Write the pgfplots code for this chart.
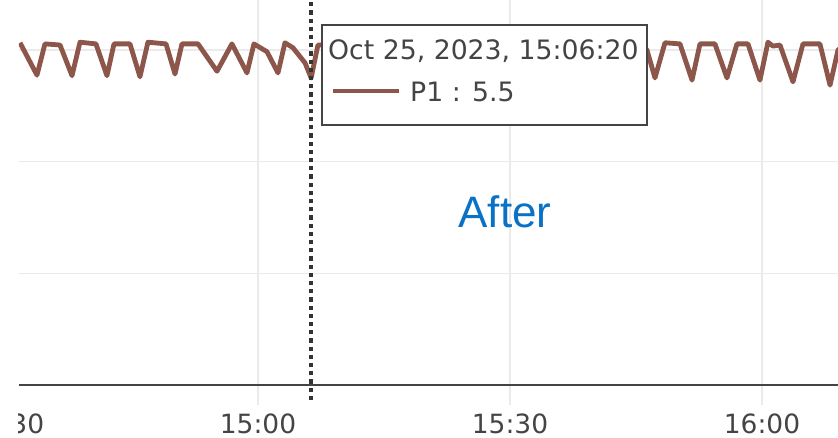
\documentclass[border=0pt]{standalone}
\usepackage{fontspec}
\setmainfont{Liberation Sans}
\newfontfamily\verd{DejaVu Sans}
\usepackage{pgfplots}
\pgfplotsset{compat=1.18}
\definecolor{brownline}{HTML}{8C564B}
\definecolor{axgray}{HTML}{444444}
\definecolor{spikegray}{HTML}{333333}
\definecolor{gridgray}{HTML}{EBEBEB}
\definecolor{afterblue}{HTML}{0A72C6}

\begin{document}
\begin{tikzpicture}[x=1pt,y=1pt]
\useasboundingbox (0,0) rectangle (838,437);
\clip (18,0) rectangle (838,437);
\begin{axis}[
  at={(19pt,52pt)}, anchor=south west,
  scale only axis, width=819pt, height=385pt,
  xmin=31.55, xmax=129.05, ymin=0, ymax=6.896,
  axis x line*=bottom, axis y line*=left,
  y axis line style={draw=none},
  x axis line style={axgray, line width=2.2pt},
  xtick={60,90,120}, xticklabels={15:00,15:30,16:00},
  ytick={2,4,6}, yticklabels={},
  tick align=outside,
  xtick style={gridgray, line width=1.6pt},
  ytick style={draw=none},
  major tick length=20pt,
  grid=major, major grid style={gridgray, line width=1.6pt},
  xticklabel style={font=\verd\fontsize{26.5}{30}\selectfont, text=axgray, anchor=base, yshift=-28pt},
  clip mode=individual,
]
\addplot[brownline, line width=4.8pt, line join=round] coordinates {
 (31.67,6.13) (33.69,5.55) (34.64,6.11) (36.43,6.09) (37.86,5.54) (38.81,6.14)
 (40.71,6.11) (42.02,5.54) (42.86,6.11) (44.76,6.11) (45.95,5.52) (46.90,6.14)
 (49.05,6.11) (50.12,5.57) (50.95,6.11) (52.86,6.11) (55.12,5.62) (56.90,6.11)
 (58.69,5.59) (59.52,6.11) (61.07,5.97) (62.38,5.59) (63.21,6.13) (64.17,6.04)
 (65.60,5.77) (66.33,5.50) (67.14,6.09) (68.57,6.09) (70.00,5.54) (70.95,6.11)
 (72.74,6.11) (74.17,5.54) (75.12,6.11) (76.90,6.11) (78.33,5.54) (79.29,6.11)
 (81.07,6.11) (82.50,5.54) (83.45,6.11) (85.24,6.11) (86.67,5.54) (87.62,6.11)
 (89.40,6.11) (90.83,5.54) (91.79,6.11) (93.57,6.11) (95.00,5.54) (95.95,6.11)
 (97.74,6.11) (99.17,5.54) (100.12,6.11) (101.90,6.11) (103.33,5.54) (104.29,6.11)
 (105.48,6.11) (106.31,6.00) (107.26,5.50) (108.45,6.13) (110.24,6.11) (111.67,5.46)
 (112.62,6.11) (114.40,6.11) (115.83,5.50) (117.02,6.11) (118.33,6.11) (119.76,5.46)
 (120.71,6.14) (121.31,6.07) (122.14,6.09) (123.69,5.43) (124.88,6.11) (126.90,6.11)
 (128.10,5.37) (129.05,6.00) (129.88,6.10)
};
\coordinate (spikebot) at (axis cs:66.33,-0.27);
\coordinate (spiketop) at (axis cs:66.33,7.2);
\node[font=\verd\fontsize{26.5}{30}\selectfont, text=axgray, anchor=base, yshift=-48pt, inner sep=0pt] at (axis cs:30,0) {14:30};
\end{axis}
\draw[color=spikegray, line width=3.4pt, dash pattern=on 4.2pt off 4pt] (spikebot) -- (spiketop);
% tooltip
\draw[axgray, line width=1.8pt, fill=white] (322,412) rectangle (647,312);
\node[anchor=base west, inner sep=0pt, font=\verd\fontsize{26.7}{30}\selectfont, text=axgray] at (328,377) {Oct 25, 2023, 15:06:20};
\draw[brownline, line width=4pt] (333,346) -- (399,346);
\node[anchor=base west, inner sep=0pt, font=\verd\fontsize{26.7}{30}\selectfont, text=axgray] at (410,335) {P1 : 5.5};
\node[anchor=base, inner sep=0pt, font=\fontsize{44}{50}\selectfont, text=afterblue] at (505,209) {After};
\end{tikzpicture}
\end{document}
